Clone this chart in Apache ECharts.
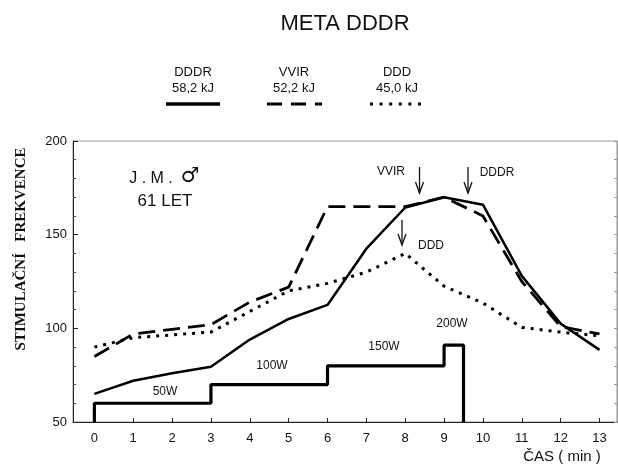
<!DOCTYPE html>
<html><head><meta charset="utf-8">
<script src="https://cdn.jsdelivr.net/npm/echarts@6/dist/echarts.min.js"></script>
<style>html,body{margin:0;padding:0;background:#fff}#c{width:618px;height:465px}</style>
</head><body><div id="c"></div>
<script>
// ---- data ----
const minutes = [0,1,2,3,4,5,6,7,8,9,10,11,12,13];
const dddr = [65,72,76,79.5,94,105,112.5,142.5,164.5,170,166,128,102.5,88.5];
const vvir = [85,97,99.5,102,114,122,165,165,165,170,160,125,101,97];
const ddd  = [90,95,96.5,98,109,120,124,130,140,122.5,113.5,100.5,98,96];
const loadX = [0,0,3,3,6,6,9,9,9.5,9.5];
const loadY = [50,60,60,70,70,80,80,91,91,50];
const loadLabels = ['50W','100W','150W','200W'];
const xTicks = [0,1,2,3,4,5,6,7,8,9,10,11,12,13];
const legendNames = ['DDDR','VVIR','DDD'];
const legendEnergy = ['58,2 kJ','52,2 kJ','45,0 kJ'];
const titleText = 'META DDDR';
const yName = 'STIMULAČNÍ   FREKVENCE';
const xName = 'ČAS ( min )';

const zip = (xs, ys) => xs.map((x, i) => [x, ys[i]]);
const SANS = "'Liberation Sans', Arial, sans-serif";

function txt(text, x, y, size, opts) {
  opts = opts || {};
  return {
    type: 'text', x: x, y: y, rotation: opts.rotation || 0, z: 10,
    style: {
      text: text, fill: '#111',
      font: (opts.weight || 'normal') + ' ' + size + 'px ' + (opts.family || SANS),
      align: opts.align || 'center', verticalAlign: 'middle'
    }
  };
}
function arrow(x, y1, y2) {
  return [
    { type: 'line', shape: { x1: x, y1: y1, x2: x, y2: y2 }, style: { stroke: '#111', lineWidth: 1.3 }, z: 10 },
    { type: 'polyline', shape: { points: [[x - 4, y2 - 11], [x, y2], [x + 4, y2 - 11]] }, style: { stroke: '#111', fill: null, lineWidth: 1.3 }, z: 10 }
  ];
}

const graphics = [
  txt(titleText, 345, 24, 22),
  txt(legendNames[0], 193, 72, 13), txt(legendEnergy[0], 193, 88, 13),
  txt(legendNames[1], 294, 72, 13), txt(legendEnergy[1], 294, 88, 13),
  txt(legendNames[2], 397, 72, 13), txt(legendEnergy[2], 397, 88, 13),
  { type: 'line', shape: { x1: 166, y1: 104, x2: 220, y2: 104 }, style: { stroke: '#000', lineWidth: 3.5 } },
  { type: 'line', shape: { x1: 267, y1: 104, x2: 322, y2: 104 }, style: { stroke: '#000', lineWidth: 3, lineDash: [15, 9] } },
  { type: 'line', shape: { x1: 370, y1: 104, x2: 422, y2: 104 }, style: { stroke: '#000', lineWidth: 3, lineDash: [3, 6.6] } },
  txt(yName, 21, 249, 15, { rotation: Math.PI / 2, weight: 'bold', family: "'Liberation Serif', serif" }),
  txt(xName, 562, 457, 15),
  txt('J . M .', 151, 179, 16),
  txt('\u2642', 190, 177, 21, { weight: 'bold', family: "'DejaVu Sans', sans-serif" }),
  txt('61 LET', 165, 201, 17),
  txt(loadLabels[0], 165, 392, 12),
  txt(loadLabels[1], 272, 366, 12),
  txt(loadLabels[2], 384, 347, 12),
  txt(loadLabels[3], 452, 324, 12),
  txt('VVIR', 391, 172, 12),
  txt('DDDR', 497, 173, 12),
  txt('DDD', 431, 246, 12)
].concat(arrow(419.5, 167, 193), arrow(468, 167, 193), arrow(402, 220, 245));

const chart = echarts.init(document.getElementById('c'), null, { renderer: 'canvas' });
chart.setOption({
  animation: false,
  backgroundColor: '#fff',
  grid: { left: 73, right: 1, top: 141, bottom: 43, show: true, borderColor: '#999', borderWidth: 1 },
  xAxis: {
    type: 'value', min: -0.55, max: 13.45,
    axisLine: { show: true, onZero: false, lineStyle: { color: '#222', width: 1 } },
    axisTick: { show: true, inside: true, length: 4, customValues: xTicks, lineStyle: { color: '#222' } },
    axisLabel: { customValues: xTicks, margin: 10, fontSize: 13, color: '#111', fontFamily: SANS },
    splitLine: { show: false }
  },
  yAxis: [{
    type: 'value', min: 50, max: 200, interval: 50, position: 'left',
    axisLine: { show: true, onZero: false, lineStyle: { color: '#222', width: 1 } },
    axisTick: { show: true, inside: true, length: 5, lineStyle: { color: '#222' } },
    minorTick: { show: true, splitNumber: 5, length: 3, lineStyle: { color: '#444' } },
    axisLabel: { margin: 6, fontSize: 13, color: '#111', fontFamily: SANS },
    splitLine: { show: false }
  }, {
    type: 'value', min: 50, max: 200, interval: 50, position: 'right',
    axisLine: { show: true, onZero: false, lineStyle: { color: '#999', width: 1 } },
    axisTick: { show: true, inside: true, length: 3, lineStyle: { color: '#999' } },
    minorTick: { show: true, splitNumber: 5, length: 3, lineStyle: { color: '#999' } },
    axisLabel: { show: false },
    splitLine: { show: false }
  }],
  series: [
    { type: 'line', name: 'DDD', data: zip(minutes, ddd), symbol: 'none',
      lineStyle: { color: '#000', width: 3, type: [3, 6], cap: 'butt' } },
    { type: 'line', name: 'VVIR', data: zip(minutes, vvir), symbol: 'none',
      lineStyle: { color: '#000', width: 2.8, type: [17, 8] } },
    { type: 'line', name: 'DDDR', data: zip(minutes, dddr), symbol: 'none',
      lineStyle: { color: '#000', width: 2.5 } },
    { type: 'line', name: 'load', data: zip(loadX, loadY), symbol: 'none',
      lineStyle: { color: '#000', width: 3.2 } }
  ],
  graphic: graphics
});
</script>
</body></html>
